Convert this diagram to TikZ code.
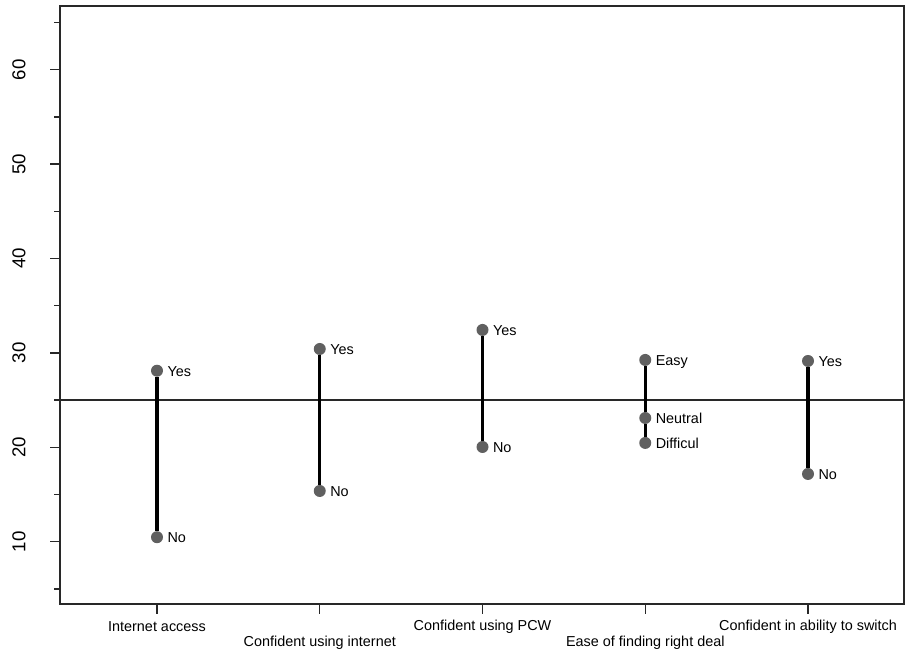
\documentclass[tikz,border=0pt]{standalone}
\usepackage{fontspec}
\setmainfont{Liberation Sans}
\usepackage{xcolor}
\usetikzlibrary{positioning}
\definecolor{dotgrey}{RGB}{96,96,96}
\definecolor{framegrey}{RGB}{40,40,40}
\tikzset{
  frame/.style={draw=framegrey, line width=1.1pt},
  refline/.style={draw=framegrey, line width=1.6pt},
  seg/.style={draw=black, line width=2.3pt},
  pt/.style={circle, fill=dotgrey, inner sep=0pt, minimum size=9pt},
  ptlab/.style={inner sep=0pt, text height=1.55ex, text depth=0pt,
    font=\fontsize{10.8}{12}\selectfont},
  xlab/.style={inner sep=0pt, font=\fontsize{10.8}{12}\selectfont},
  ylab/.style={inner sep=0pt, rotate=90, font=\fontsize{14}{16}\selectfont}
}

\begin{document}
\begin{tikzpicture}[x=0.75pt, y=7.08pt]
        \useasboundingbox (0,-1.90) rectangle (907,67.38);

        % frame and the line at 25
        \draw[frame] (60,3.40) rectangle (904,66.75);
        \draw[refline] (60,25) -- (904,25);

        % y axis
        \foreach \v in {10,20,...,60}{
            \draw[frame] (60,\v) -- ++(-7.5pt,0);
            \node[ylab] (y\v) at (19,\v) {\v};
        }
        \foreach \v in {5,15,...,65}
            \draw[frame] (60,\v) -- ++(-4.5pt,0);

        % x axis
        \foreach \x in {157,319.75,482.5,645.25,808}
            \draw[frame] (\x,3.40) -- ++(0,-7.5pt);
        \node[xlab] (xia) at (157,0.96) {Internet access};
        \node[xlab] (xci) at (319.75,-0.73) {Confident using internet};
        \node[xlab] (xpc) at (482.5,0.96) {Confident using PCW};
        \node[xlab] (xed) at (645.25,-0.73) {Ease of finding right deal};
        \node[xlab] (xsw) at (808,0.96) {Confident in ability to switch};

        % points
        \node[pt] (iaY) at (157,28.11) {};
        \node[pt] (iaN) at (157,10.47) {};
        \node[pt] (ciY) at (319.75,30.41) {};
        \node[pt] (ciN) at (319.75,15.37) {};
        \node[pt] (pcY) at (482.5,32.43) {};
        \node[pt] (pcN) at (482.5,20.03) {};
        \node[pt] (edE) at (645.25,29.25) {};
        \node[pt] (edM) at (645.25,23.10) {};
        \node[pt] (edD) at (645.25,20.46) {};
        \node[pt] (swY) at (808,29.14) {};
        \node[pt] (swN) at (808,17.17) {};

        \draw[seg] (iaY) -- (iaN);
        \draw[seg] (ciY) -- (ciN);
        \draw[seg] (pcY) -- (pcN);
        \draw[seg] (edE) -- (edM);
        \draw[seg] (edM) -- (edD);
        \draw[seg] (swY) -- (swN);

        \node[ptlab, right=3pt of iaY] (iaYl) {Yes};
        \node[ptlab, right=3pt of iaN] (iaNl) {No};
        \node[ptlab, right=3pt of ciY] (ciYl) {Yes};
        \node[ptlab, right=3pt of ciN] (ciNl) {No};
        \node[ptlab, right=3pt of pcY] (pcYl) {Yes};
        \node[ptlab, right=3pt of pcN] (pcNl) {No};
        \node[ptlab, right=3pt of edE] (edEl) {Easy};
        \node[ptlab, right=3pt of edM] (edMl) {Neutral};
        \node[ptlab, right=3pt of edD] (edDl) {Difficul};
        \node[ptlab, right=3pt of swY] (swYl) {Yes};
        \node[ptlab, right=3pt of swN] (swNl) {No};
    \end{tikzpicture}
\end{document}
